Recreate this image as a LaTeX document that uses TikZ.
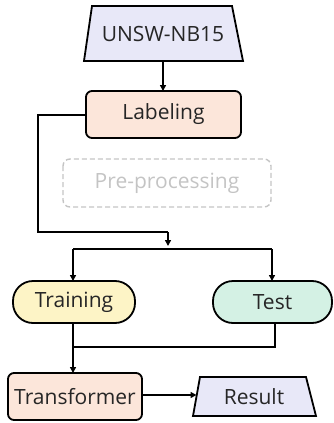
\documentclass[tikz,border=0pt]{standalone}
\usepackage{fontspec}
\setmainfont{Open Sans}
\usetikzlibrary{shapes.geometric,arrows.meta}
\definecolor{lav}{HTML}{E8E8F8}
\definecolor{peach}{HTML}{FCE6DA}
\definecolor{yel}{HTML}{FDF4C6}
\definecolor{mint}{HTML}{D4F1E4}
\definecolor{txt}{HTML}{262626}
\definecolor{dgray}{HTML}{C4C4C4}
\tikzset{
  x=1pt,y=-1pt,
  every node/.style={font=\fontsize{21}{25}\selectfont, text=txt, inner sep=0pt},
  base/.style={draw=black, line width=1.8pt},
  rbox/.style={base, rounded corners=6pt},
  stad/.style={base, rounded corners=20pt},
  flow/.style={line width=1.8pt, -{Triangle[length=6pt,width=6pt]}},
  plain/.style={line width=1.8pt},
}
\begin{document}
\begin{tikzpicture}
\useasboundingbox (0,0) rectangle (333,423);
% UNSW-NB15 trapezoid
\filldraw[base, fill=lav] (92,6) -- (232,6) -- (243,61) -- (84,61) -- cycle;
\node (unsw) at (163,34) {UNSW-NB15};
\coordinate (unswb) at (163,61);
% Labeling
\draw[rbox, fill=peach] (86,91) rectangle (241,138);
\node (lab) at (163.5,114.5) {Labeling};
\coordinate (labt) at (163,91);
\coordinate (labl) at (86,115);
% Pre-processing
\draw[draw=dgray, line width=1.4pt, dashed, dash pattern=on 5pt off 3pt, rounded corners=7pt] (63,159) rectangle (271,207);
\node[text=dgray] (pre) at (167,183) {Pre-processing};
% split
\coordinate (c1) at (38,115);
\coordinate (c2) at (38,232);
\coordinate (c3) at (168,232);
\coordinate (split) at (168,249);
\coordinate (sl) at (73,249);
\coordinate (sr) at (272,249);
% Training / Test
\draw[stad, fill=yel] (13,281) rectangle (135,323);
\node (train) at (74,302) {Training};
\draw[stad, fill=mint] (213,281) rectangle (332,323);
\node (test) at (272.5,302) {Test};
\coordinate (traint) at (73,281);
\coordinate (testt) at (272,281);
\coordinate (trainb) at (73,323);
\coordinate (testb) at (275,323);
\coordinate (jr) at (275,347);
\coordinate (jl) at (73,347);
% Transformer
\draw[rbox, fill=peach] (8,373) rectangle (142,420);
\node (trans) at (75,396.5) {Transformer};
\coordinate (transt) at (73,373);
\coordinate (transr) at (142,395);
% Result
\filldraw[base, fill=lav] (200,377) -- (306,377) -- (316,416) -- (193,416) -- cycle;
\node (res) at (254,397) {Result};
\coordinate (resl) at (196.5,395);
% connectors
\draw[flow] (unswb) -- (labt);
\draw[plain] (labl) -- (c1) -- (c2) -- (c3);
\draw[flow] (c3) -- (168,246);
\draw[plain] (sl) -- (sr);
\draw[flow] (sl) -- (traint);
\draw[flow] (sr) -- (testt);
\draw[plain] (testb) -- (jr) -- (jl);
\draw[flow] (trainb) -- (transt);
\draw[flow] (transr) -- (resl);
\end{tikzpicture}
\end{document}
